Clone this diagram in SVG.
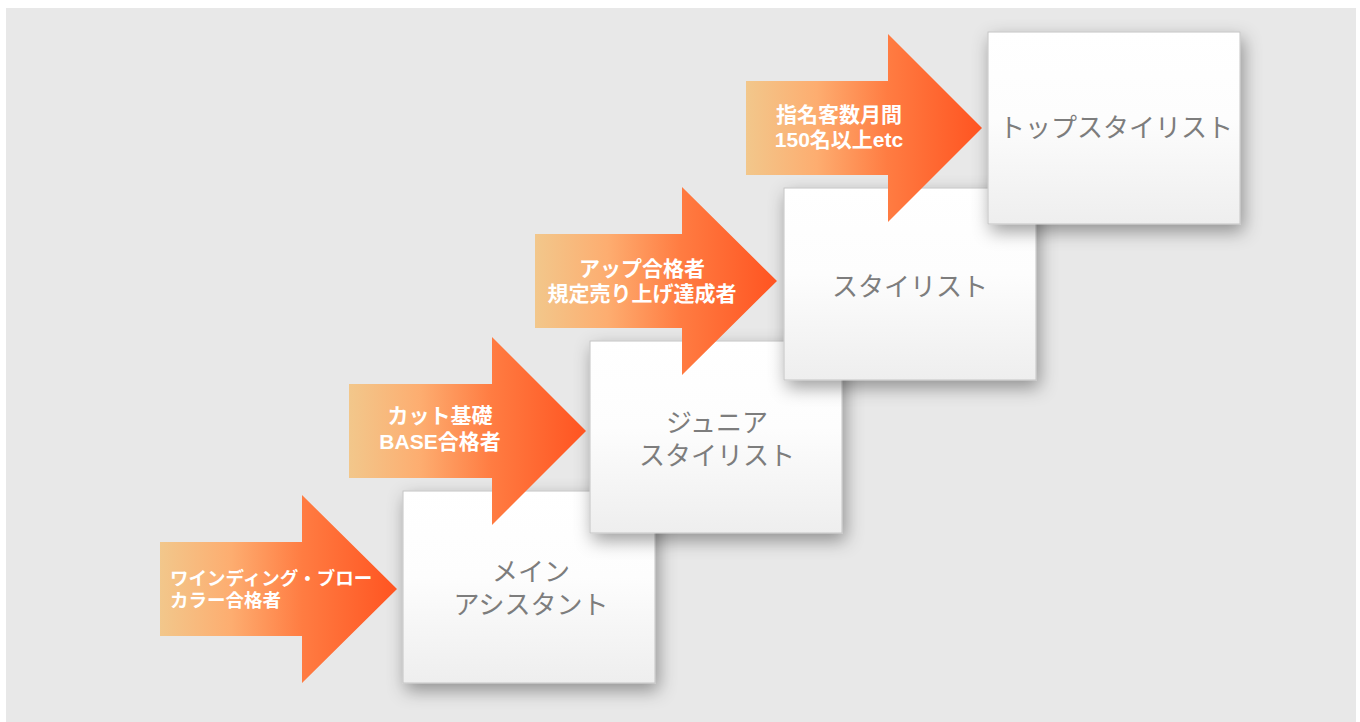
<svg xmlns="http://www.w3.org/2000/svg" width="1360" height="722" viewBox="0 0 1360 722">
  <style>
    .box { fill: url(#boxGrad); stroke: #c4c4c4; stroke-width: 1; filter: url(#shadow); }
    .boxText { font-family: "Liberation Sans", "Noto Sans CJK JP", sans-serif; font-size: 26px; font-weight: 400; fill: #7d7d7d; text-anchor: middle; }
    .arrow { fill: url(#arrowGrad); }
    .arrowText { font-family: "Liberation Sans", "Noto Sans CJK JP", sans-serif; font-size: 21px; font-weight: 700; fill: #ffffff; text-anchor: middle; }
    .arrowTextSmall { font-family: "Liberation Sans", "Noto Sans CJK JP", sans-serif; font-size: 18.5px; font-weight: 700; fill: #ffffff; text-anchor: start; }
  </style>
  <defs>
    <linearGradient id="boxGrad" x1="0" y1="0" x2="0" y2="1">
      <stop offset="0" stop-color="#ffffff"/>
      <stop offset="0.45" stop-color="#fdfdfd"/>
      <stop offset="1" stop-color="#eeeeee"/>
    </linearGradient>
    <linearGradient id="arrowGrad" x1="0" y1="0" x2="1" y2="0">
      <stop offset="0" stop-color="#f2c78b"/>
      <stop offset="0.3" stop-color="#fdad70"/>
      <stop offset="0.6" stop-color="#ff7c42"/>
      <stop offset="1" stop-color="#ff5421"/>
    </linearGradient>
    <filter id="shadow" x="-20%" y="-20%" width="140%" height="150%">
      <feDropShadow dx="3" dy="7" stdDeviation="9" flood-color="#000000" flood-opacity="0.38"/>
    </filter>
  </defs>

  <rect x="6" y="8" width="1350" height="714" fill="#e8e8e8"/>

  <g id="node-main-assistant">
    <rect class="box" x="403" y="491" width="252" height="192"/>
    <text class="boxText" x="531" y="581">メイン</text>
    <text class="boxText" x="531" y="614">アシスタント</text>
  </g>
  <g id="node-junior-stylist">
    <rect class="box" x="590" y="341" width="252" height="192"/>
    <text class="boxText" x="717" y="432">ジュニア</text>
    <text class="boxText" x="717" y="465">スタイリスト</text>
  </g>
  <g id="node-stylist">
    <rect class="box" x="784" y="188" width="252" height="192"/>
    <text class="boxText" x="910" y="296">スタイリスト</text>
  </g>
  <g id="node-top-stylist">
    <rect class="box" x="988" y="32" width="252" height="192"/>
    <text class="boxText" x="1116" y="137">トップスタイリスト</text>
  </g>

  <g id="connectors">
    <g id="arrow-1">
      <path class="arrow" d="M160,542 H302 V495 L397,589 L302,683 V636 H160 Z"/>
      <text class="arrowTextSmall" x="170" y="585">ワインディング・ブロー</text>
      <text class="arrowTextSmall" x="170" y="607">カラー合格者</text>
    </g>
    <g id="arrow-2">
      <path class="arrow" d="M349,384 H492 V337 L586,431 L492,525 V478 H349 Z"/>
      <text class="arrowText" x="440" y="423">カット基礎</text>
      <text class="arrowText" x="440" y="449">BASE合格者</text>
    </g>
    <g id="arrow-3">
      <path class="arrow" d="M535,234 H682 V187 L777,281 L682,375 V328 H535 Z"/>
      <text class="arrowText" x="642" y="276">アップ合格者</text>
      <text class="arrowText" x="642" y="301">規定売り上げ達成者</text>
    </g>
    <g id="arrow-4">
      <path class="arrow" d="M746,81 H888 V34 L982,128 L888,222 V175 H746 Z"/>
      <text class="arrowText" x="839" y="122">指名客数月間</text>
      <text class="arrowText" x="839" y="147">150名以上etc</text>
    </g>
  </g>
</svg>
